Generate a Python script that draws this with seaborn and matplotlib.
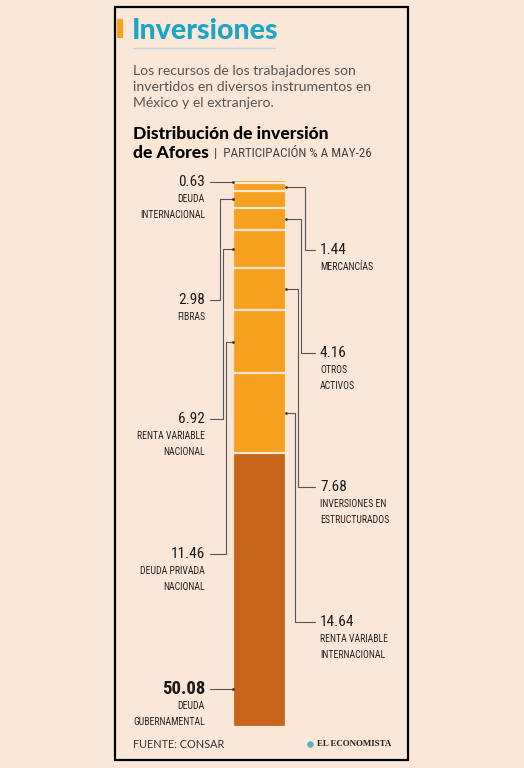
import matplotlib
matplotlib.use("Agg")
import matplotlib.pyplot as plt
from matplotlib.patches import Rectangle
import seaborn as sns

# datos: distribucion de inversion de Afores (% a may-26)
valores = [0.63, 1.44, 2.98, 4.16, 6.92, 7.68, 11.46, 14.64, 50.08]
categorias = ["DEUDA\nINTERNACIONAL", "MERCANCÍAS", "FIBRAS", "OTROS\nACTIVOS",
              "RENTA VARIABLE\nNACIONAL", "INVERSIONES EN\nESTRUCTURADOS",
              "DEUDA PRIVADA\nNACIONAL", "RENTA VARIABLE\nINTERNACIONAL",
              "DEUDA\nGUBERNAMENTAL"]
etiquetas = ["0.63", "1.44", "2.98", "4.16", "6.92", "7.68", "11.46", "14.64", "50.08"]

# layout de las etiquetas (lado, altura del texto en % del eje, codo en px)
lado = ["L", "R", "L", "R", "L", "R", "L", "R", "L"]
pos_y = [0.37, 12.8, 21.9, 31.6, 43.7, 56.1, 68.4, 80.8, 93.1]
codo = [None, 305, 220, 301, 222.5, 298, 226, 295, None]

FONDO = "#FBE7D8"
NARANJA = "#F6A11F"
CAFE = "#C8651C"
LINEA = "#555555"
FUENTE_COND = ["Roboto Condensed", "Liberation Sans Narrow", "DejaVu Sans"]

sns.set_theme(style="white")
plt.rcParams["font.family"] = ["Lato", "DejaVu Sans"]

W, H = 524, 768
fig = plt.figure(figsize=(W / 100, H / 100), dpi=100)
fig.patch.set_facecolor(FONDO)

# eje de fondo en pixeles para marco y textos
bg = fig.add_axes([0, 0, 1, 1])
bg.set_xlim(0, W)
bg.set_ylim(H, 0)
bg.axis("off")
bg.add_patch(Rectangle((115, 7), 293, 753, fill=False, ec="black", lw=1.6))
bg.add_patch(Rectangle((117, 19), 6, 19, color=NARANJA, lw=0))
bg.text(132, 31, "Inversiones", color="#1BA5C9", fontsize=20.5, fontweight="black",
        va="center", ha="left")
bg.plot([133, 275], [48, 48], color="#C5D3DA", lw=1)
sub = "Los recursos de los trabajadores son\ninvertidos en diversos instrumentos en\nMéxico y el extranjero."
bg.text(133, 65, sub, color="#555555", fontsize=10.1, fontweight="normal",
        va="top", ha="left", linespacing=1.42)
bg.text(133, 134, "Distribución de inversión", color="black", fontsize=12.6,
        fontweight="black", va="center")
bg.text(133, 153, "de Afores", color="black", fontsize=12.6,
        fontweight="black", va="center")
bg.text(214, 153, "|  PARTICIPACIÓN % A MAY-26", color="#444444", fontsize=9.4,
        family=FUENTE_COND, fontstretch="condensed", va="center")
bg.text(133, 744, "FUENTE: CONSAR", color="#333333", fontsize=7.8, va="center")
bg.scatter([310], [744], s=22, color="#4FB3CC", lw=0)
bg.text(391, 744, "EL ECONOMISTA", color="#222222", fontsize=6.4, va="center",
        ha="right", fontweight="bold", family=["Liberation Serif", "DejaVu Serif"])

# eje de la barra: 0.8 unidades = 53 px de ancho
centro, ppu = 259.5, 66.25
def px(x):
    return (x - centro) / ppu

ax = fig.add_axes([115 / W, (H - 727) / H, 293 / W, 547 / H])
ax.set_facecolor("none")

acum = []
s = 0
for v in valores:
    s += v
    acum.append(s)

colores = [NARANJA] * (len(valores) - 1) + [CAFE]
for i in range(len(valores) - 1, -1, -1):
    sns.barplot(x=[""], y=[acum[i]], color=colores[i], saturation=1, width=0.8,
                edgecolor=FONDO, linewidth=1.6, ax=ax)

ax.set_xlim(px(115), px(408))
ax.set_ylim(100, 0)
ax.axis("off")

for i, v in enumerate(valores):
    ini = acum[i] - v
    ly = pos_y[i]
    ya = ly if ini <= ly <= acum[i] else ini + v / 2
    if lado[i] == "L":
        xs = [px(210)]
        ys = [ly]
        if codo[i] is not None:
            xs += [px(codo[i]), px(codo[i])]
            ys += [ly, ya]
        xs.append(-0.4)
        ys.append(ya)
        xt, ha = px(205), "right"
        xm = -0.4
    else:
        xs = [0.4, px(codo[i]), px(codo[i]), px(315)]
        ys = [ya, ya, ly, ly]
        xt, ha = px(320), "left"
        xm = 0.4
    ax.plot(xs, ys, color=LINEA, lw=0.8, clip_on=False)
    ax.scatter([xm], [ya], s=4, color="#333333", lw=0, zorder=5, clip_on=False)
    grande = etiquetas[i] == "50.08"
    ax.text(xt, ly, etiquetas[i], ha=ha, va="center", color="#1a1a1a",
            fontsize=13.5 if grande else 11, fontweight="bold" if grande else "normal",
            family=FUENTE_COND, fontstretch="condensed", clip_on=False)
    ax.text(xt, ly + 2.2, categorias[i], ha=ha, va="top", color="#222222",
            fontsize=7, family=FUENTE_COND, fontstretch="condensed",
            linespacing=1.75, clip_on=False)

fig.savefig("out.png", dpi=100, facecolor=FONDO)
